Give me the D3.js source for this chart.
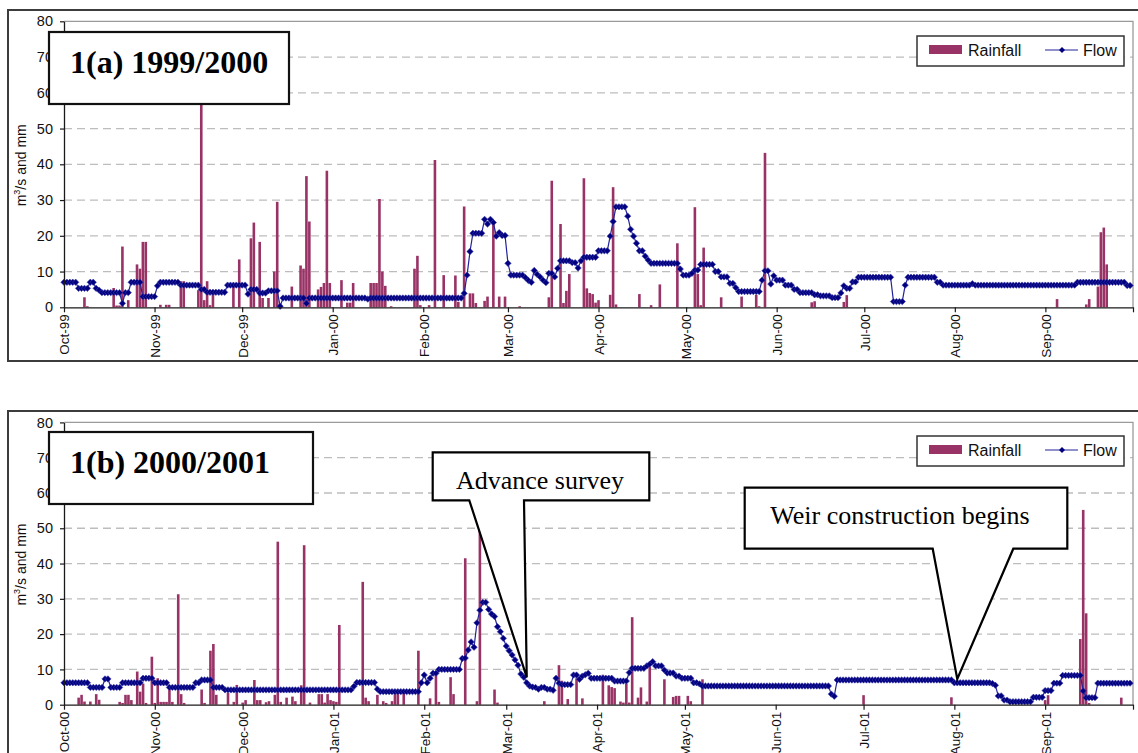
<!DOCTYPE html>
<html>
<head>
<meta charset="utf-8">
<script src="https://cdn.jsdelivr.net/npm/d3@7"></script>
<style>
  body { margin: 0; background: #fff; }
  svg { display: block; }
</style>
</head>
<body>
<svg id="chart" width="1138" height="753"></svg>
<script>
// ---------------------------------------------------------------
// Daily river flow (m3/s), one value per day from 1 October
// ---------------------------------------------------------------
const flow9900 = [
  // Oct-99
  7,7,7,7,7,5.3,5.3,5.3,5.3,7,7,5.3,4.8,4.1,4.1,4.1,4.1,4.1,4.1,4.1,1.1,4.1,4.1,7,7,7,7,3,3,3,3,
  // Nov-99
  3,6,7,7,7,7,7,7,7,6.2,6.2,6.2,6.2,6.2,6.2,6.2,5,5,4.2,4.2,4.2,4.2,4.2,4.2,4.2,6.2,6.2,6.2,6.2,6.2,
  // Dec-99
  6.2,6.2,3.7,5,5,5,4,4,4,4.6,4.6,4.6,4.6,0.3,2.6,2.6,2.6,2.6,2.6,2.6,2.6,2.6,1.1,2.6,2.6,2.6,2.6,2.6,2.6,2.6,2.6,
  // Jan-00
  2.6,2.6,2.6,2.6,2.6,2.6,2.6,2.6,2.6,2.6,2.6,2.6,2.3,2.6,2.6,2.6,2.6,2.6,2.6,2.6,2.6,2.6,2.6,2.6,2.6,2.6,2.6,2.6,2.6,2.6,2.6,
  // Feb-00
  2.6,2.6,2.6,2.6,2.6,2.6,2.6,2.6,2.6,2.6,2.6,2.6,2.6,2.6,3.9,9,15.6,20.7,20.7,20.7,20.7,24.6,23.3,24.6,23.7,19.9,20.9,20.1,20.1,
  // Mar-00
  12.3,9,9,9,9,9,8.3,7.5,7,10.3,9.2,8.5,7.6,6.9,9.5,9.5,8.5,10.9,13,13,13,13,12.5,12.5,11,13,14,14,14,14,14,
  // Apr-00
  15.8,15.8,15.8,15.8,19.9,24,28.1,28.1,28.1,28.1,25.5,21.8,19.9,17.9,15.8,15.8,14.3,13.2,12.3,12.3,12.3,12.3,12.3,12.3,12.3,12.3,12.3,12.3,10.7,9,
  // May-00
  9,9,9.5,10.4,10.4,12,12,12,12,12,10,10,8.5,8.5,8.5,6.7,6.7,5.5,4.4,4.4,4.4,4.4,4.4,4.4,4.4,4.4,7.6,10.2,10.2,6.5,8.8,
  // Jun-00
  7.6,7.6,7.6,6.2,6.2,6.2,5,5,4.1,4.1,4.1,4.1,4.1,3.5,3.5,3.2,3.2,3.2,3.2,2.7,2.7,2.7,4,6,5.3,5.3,7.1,7.1,8.4,8.4,
  // Jul-00
  8.4,8.4,8.4,8.4,8.4,8.4,8.4,8.4,8.4,8.4,1.6,1.6,1.6,1.6,6.2,8.4,8.4,8.4,8.4,8.4,8.4,8.4,8.4,8.4,8.4,7,7,6.2,6.2,6.2,6.2,
  // Aug-00
  6.2,6.2,6.2,6.2,6.2,6.2,6.6,6.2,6.2,6.2,6.2,6.2,6.2,6.2,6.2,6.2,6.2,6.2,6.2,6.2,6.2,6.2,6.2,6.2,6.2,6.2,6.2,6.2,6.2,6.2,6.2,
  // Sep-00
  6.2,6.2,6.2,6.2,6.2,6.2,6.2,6.2,6.2,6.2,6.2,7,7,7,7,7,7,7,7,7,7,7,7,7,7,7,7,7,6.1,6.1
];

const flow0001 = [
  // Oct-00
  6.2,6.2,6.2,6.2,6.2,6.2,6.2,6.2,6.2,4.9,4.9,4.9,4.9,4.9,7.3,7.3,4.9,4.9,4.9,4.9,6.2,6.2,6.2,6.2,6.2,6.2,6.2,7.5,7.5,7.5,7.5,
  // Nov-00
  6.2,6.2,6.2,6.2,6.2,4.9,4.9,4.9,4.9,4.9,4.9,4.9,4.9,4.9,6.2,6.2,7,7,7,7,4.9,4.9,4.9,4.9,4.2,4.2,4.2,4.2,4.2,4.2,
  // Dec-00
  4.2,4.2,4.2,4.2,4.2,4.2,4.2,4.2,4.2,4.2,4.2,4.2,4.2,4.2,4.2,4.2,4.2,4.2,4.2,4.2,4.2,4.2,4.2,4.2,4.2,4.2,4.2,4.2,4.2,4.2,4.2,
  // Jan-01
  4.2,4.2,4.2,4.2,4.2,4.2,4.2,5.2,6.3,6.3,6.3,6.3,6.3,6.3,6.3,4.4,3.7,3.7,3.7,3.7,3.7,3.7,3.7,3.7,3.7,3.7,3.7,3.7,3.7,3.7,6.2,
  // Feb-01
  8.4,6.2,7.5,8.9,8.9,10,10,10,10,10,10,10,10,13.1,13.2,15.5,17.8,16.3,23.2,26.8,29,29,27,25.7,25,22.1,20.7,18.8,
  // Mar-01
  16.6,15.3,14.1,12.7,11.2,8.7,7.8,6.2,5.3,5,4.9,4.4,4.9,4.9,4.4,4.4,4.1,7.5,6.1,5.7,5.7,5.7,5.7,8.4,8.4,7.2,8.1,8.5,8.9,7.5,7.5,
  // Apr-01
  7.5,7.5,7.5,7.5,7.5,7.5,6.7,6.7,6.7,6.7,6.7,9.1,10.3,10.3,10.3,10.3,10.3,11,11.5,12.2,11,11,11,9.8,9,9,9,8.1,8.1,7.5,
  // May-01
  7.5,7.5,7.5,6.2,6.2,5.9,5.3,5.3,5.3,5.3,5.3,5.3,5.3,5.3,5.3,5.3,5.3,5.3,5.3,5.3,5.3,5.3,5.3,5.3,5.3,5.3,5.3,5.3,5.3,5.3,5.3,
  // Jun-01
  5.3,5.3,5.3,5.3,5.3,5.3,5.3,5.3,5.3,5.3,5.3,5.3,5.3,5.3,5.3,5.3,5.3,5.3,5.3,3,2.4,7,7,7,7,7,7,7,7,7,
  // Jul-01
  7,7,7,7,7,7,7,7,7,7,7,7,7,7,7,7,7,7,7,7,7,7,7,7,7,7,7,7,7,7,7,
  // Aug-01
  6.2,6.2,6.2,6.2,6.2,6.2,6.2,6.2,6.2,6.2,6.2,6.2,6.2,6,5.5,2.5,2.5,1.3,1.3,0.85,0.85,0.85,0.85,0.85,0.85,0.85,0.85,2.1,2.1,2.1,2.1,
  // Sep-01
  4,4,4,6.1,6.1,6.1,8.3,8.3,8.3,8.3,8.3,8.3,8.3,3.9,2,2,2,2,6.1,6.1,6.1,6.1,6.1,6.1,6.1,6.1,6.1,6.1,6.1,6.1
];

// ---------------------------------------------------------------
// Daily rainfall (mm): day number counted from 1 October, and amount
// ---------------------------------------------------------------
const rainDay9900 = [7,8,17,18,19,20,22,25,26,27, 28,33,35,36,40,41,46,47,48,49,
  50,51,58,60,64,65,67,68,70,72, 73,78,81,82,83,84,87,88,89,90,
  91,95,97,98,99,105,106,107,108,109, 110,112,120,121,122,125,127,130,134,135,
  137,139,140,141,144,145,147,149,151,156, 166,167,170,171,172,173,178,179,180,181,
  182,183,187,188,189,197,201,204,210,216, 217,218,219,225,232,237,238,240,256,257,
  267,268,340,350,351,354,355,356,357];
const rain9900 = [2.8,0.3,5.4,0.5,0.5,17,2,12,10.8,18.3, 18.3,0.7,0.7,0.7,7.3,7.3,4.8,62,2,7.3,
  0.6,3.7,5.8,13.4,19.3,23.7,18.3,2.6,2.6,10, 29.5,5.8,11.7,10.8,36.7,24,5,5.7,6.8,38.2,
  6.8,7.6,1.3,1.3,6.8,6.8,6.8,6.8,30.3,10, 6,0.3,10.8,14.4,0.6,0.6,41.2,9,8.9,1.5,
  28.2,3.9,3.9,1.2,1.8,3,23.5,3,3,0.3, 2.8,35.4,23.3,1.2,4.6,9.3,36.1,5.3,4,3.7,
  1.3,2,3.5,33.6,0.8,3.7,0.6,6.4,17.9,28, 9.3,0.6,16.7,2.8,3,3.5,0.3,43.2,1.4,1.7,
  1.5,3.4,2.3,0.8,2.3,5.8,21,22.3,12];

const rainDay0001 = [5,6,7,9,11,12,19,20,21,22, 23,25,26,27,28,30,31,32,33,34,
  35,36,37,39,40,41,47,48,50,51, 52,56,58,59,61,62,65,66,67,69,
  70,72,73,74,76,78,79,81,82,84, 87,88,89,90,91,92,93,94,102,103,
  104,107,109,110,112,113,114,116,121,125, 127,128,132,133,137,141,142,147,148,164,
  169,170,172,175,177,184,186,187,188,190, 191,192,193,194,196,197,199,200,205,208,
  209,210,213,214,218,273,303,335,336,347, 348,349,350,361];
const rain0001 = [2,2.8,0.9,0.9,3,1.4,0.8,0.5,2.8,2.8, 1.3,9.4,3.7,6,0.5,13.6,0.5,7.5,0.8,0.8,
  0.8,4.4,0.8,31.3,3,0.5,4.3,0.5,15.3,17.2, 2.8,3.4,0.8,5.6,0.6,1.3,7,1.3,1.3,0.7,
  1,2.8,46.2,0.8,2,2.3,1,5.5,45.2,0.6, 3,3,0.6,3,1.3,1,0.8,22.6,34.8,2,
  1,2.8,1,0.5,1,3.3,3.3,3.3,15.3,1.8, 8.3,0.8,7.8,3,41.5,1,50,4.3,0.6,1,
  11.2,6.8,1.6,7.5,1.8,8.5,5.5,5,4.7,0.9, 0.6,5.9,0.6,24.8,2,4.9,0.9,10.8,7.2,2.2,
  2.5,2.5,2.5,1,7.2,2.7,2.1,1.3,2.7,18.6, 55.2,25.9,0.5,2];

// Axis labels
const monthLabels9900 = ["Oct-99","Nov-99","Dec-99","Jan-00","Feb-00","Mar-00",
                         "Apr-00","May-00","Jun-00","Jul-00","Aug-00","Sep-00"];
const monthLabels0001 = ["Oct-00","Nov-00","Dec-00","Jan-01","Feb-01","Mar-01",
                         "Apr-01","May-01","Jun-01","Jul-01","Aug-01","Sep-01"];
const yTicks = [0,10,20,30,40,50,60,70,80];

// Callout notes on the 2000/2001 flow record
const noteText = ["Advance survey", "Weir construction begins"];
const noteDate = [Date.UTC(2001, 2, 8), Date.UTC(2001, 7, 2)];
const noteFlow = [7.8, 7.3];

// ---------------------------------------------------------------
// Layout
// ---------------------------------------------------------------
const svg = d3.select("#chart");
const SANS = "'Liberation Sans', Arial, sans-serif";
const SERIF = "'Liberation Serif', 'Times New Roman', serif";
const RAIN_COLOR = "#993366";
const FLOW_COLOR = "#000080";
const PLOT_LEFT = 64, PLOT_RIGHT = 1133;

const panels = [
  { start: Date.UTC(1999, 9, 1), end: Date.UTC(2000, 9, 1),
    flow: flow9900, rainDay: rainDay9900, rain: rain9900, labels: monthLabels9900,
    frameY: 10, frameH: 351, top: 21.3, bottom: 307.3,
    title: "1(a) 1999/2000", titleBox: [49, 32, 240, 72], legendY: 36 },
  { start: Date.UTC(2000, 9, 1), end: Date.UTC(2001, 9, 1),
    flow: flow0001, rainDay: rainDay0001, rain: rain0001, labels: monthLabels0001,
    frameY: 411, frameH: 380, top: 422.4, bottom: 704.7,
    title: "1(b) 2000/2001", titleBox: [49, 432, 264, 72], legendY: 436 }
];

const diamond = r => `M0,${-r}L${r},0L0,${r}L${-r},0Z`;

function drawPanel(p) {
  const g = svg.append("g");
  const x = d3.scaleUtc().domain([p.start, p.end]).range([PLOT_LEFT, PLOT_RIGHT]);
  const y = d3.scaleLinear().domain([0, 80]).range([p.bottom, p.top]);
  const dayDate = i => d3.utcDay.offset(new Date(p.start), i);

  // outer frame
  g.append("rect")
    .attr("x", 8).attr("y", p.frameY).attr("width", 1150).attr("height", p.frameH)
    .attr("fill", "none").attr("stroke", "#3c3c3c").attr("stroke-width", 2);

  // dashed gridlines
  g.append("g").selectAll("line")
    .data(yTicks.filter(v => v > 0 && v < 80))
    .join("line")
    .attr("x1", PLOT_LEFT).attr("x2", PLOT_RIGHT)
    .attr("y1", d => y(d)).attr("y2", d => y(d))
    .attr("stroke", "#bdbdbd").attr("stroke-width", 1.3)
    .attr("stroke-dasharray", "8,5");

  // plot area border (top and right)
  g.append("path")
    .attr("d", `M${PLOT_LEFT},${y(80)}H${PLOT_RIGHT}V${y(0)}`)
    .attr("fill", "none").attr("stroke", "#9a9a9a").attr("stroke-width", 1.3);

  // rainfall bars
  const bw = 2.6;
  g.append("g").selectAll("rect")
    .data(p.rainDay.map((d, i) => ({ date: dayDate(d), v: p.rain[i] })))
    .join("rect")
    .attr("x", d => x(d.date) - bw / 2)
    .attr("width", bw)
    .attr("y", d => y(d.v))
    .attr("height", d => y(0) - y(d.v))
    .attr("fill", RAIN_COLOR);

  // flow line with diamond markers
  const flowPts = p.flow.map((v, i) => ({ date: dayDate(i), v }));
  g.append("path")
    .datum(flowPts)
    .attr("d", d3.line().x(d => x(d.date)).y(d => y(d.v)))
    .attr("fill", "none").attr("stroke", "#22229a").attr("stroke-width", 1.2);
  g.append("g").selectAll("path")
    .data(flowPts)
    .join("path")
    .attr("transform", d => `translate(${x(d.date)},${y(d.v)})`)
    .attr("d", diamond(3.2))
    .attr("fill", FLOW_COLOR).attr("stroke", "#3d3da8").attr("stroke-width", 0.6);

  // y axis
  const yAxis = g.append("g")
    .attr("transform", `translate(${PLOT_LEFT},0)`)
    .call(d3.axisLeft(y).tickValues(yTicks).tickSize(4).tickPadding(7).tickSizeOuter(0));
  yAxis.select(".domain").attr("stroke", "#1a1a1a").attr("stroke-width", 1.3);
  yAxis.selectAll(".tick line").attr("stroke", "#1a1a1a").attr("stroke-width", 1.2);
  yAxis.selectAll("text").attr("font-family", SANS).attr("font-size", 14.5).attr("fill", "#111");

  // x axis with month labels
  const ticks = d3.utcMonth.range(new Date(p.start), new Date(p.end + 1));
  const xAxis = g.append("g")
    .attr("transform", `translate(0,${y(0)})`)
    .call(d3.axisBottom(x).tickValues(ticks).tickSize(5).tickSizeOuter(0)
      .tickFormat((d, i) => p.labels[i] || ""));
  xAxis.select(".domain").attr("stroke", "#1a1a1a").attr("stroke-width", 1.3);
  xAxis.selectAll(".tick line").attr("stroke", "#1a1a1a").attr("stroke-width", 1.2);
  xAxis.selectAll("text")
    .attr("font-family", SANS).attr("font-size", 13.5).attr("fill", "#111")
    .attr("transform", "rotate(-90)")
    .attr("text-anchor", "end")
    .attr("x", -7).attr("y", 0).attr("dy", "0.36em");

  // y axis title
  const yt = g.append("text")
    .attr("transform", `translate(26,${(y(0) + y(80)) / 2 + 1}) rotate(-90)`)
    .attr("text-anchor", "middle")
    .attr("font-family", SANS).attr("font-size", 14).attr("fill", "#111");
  yt.append("tspan").text("m");
  yt.append("tspan").text("3").attr("font-size", 9).attr("dy", -6);
  yt.append("tspan").text("/s and mm").attr("dy", 6);

  // legend
  const ly = p.legendY;
  const lg = g.append("g");
  lg.append("rect").attr("x", 917).attr("y", ly).attr("width", 207).attr("height", 30)
    .attr("fill", "#fff").attr("stroke", "#333").attr("stroke-width", 1.5);
  lg.append("rect").attr("x", 929).attr("y", ly + 9).attr("width", 33).attr("height", 9)
    .attr("fill", RAIN_COLOR);
  lg.append("text").attr("x", 968).attr("y", ly + 19.5).text("Rainfall")
    .attr("font-family", SANS).attr("font-size", 16).attr("fill", "#111");
  lg.append("line").attr("x1", 1045).attr("x2", 1078).attr("y1", ly + 14).attr("y2", ly + 14)
    .attr("stroke", "#22229a").attr("stroke-width", 1.2);
  lg.append("path").attr("transform", `translate(1062,${ly + 14})`).attr("d", diamond(3))
    .attr("fill", FLOW_COLOR);
  lg.append("text").attr("x", 1083).attr("y", ly + 19.5).text("Flow")
    .attr("font-family", SANS).attr("font-size", 16).attr("fill", "#111");

  // season title box
  const [bx, by, bwid, bh] = p.titleBox;
  g.append("rect").attr("x", bx).attr("y", by).attr("width", bwid).attr("height", bh)
    .attr("fill", "#fff").attr("stroke", "#111").attr("stroke-width", 2.2);
  g.append("text").attr("x", bx + 21).attr("y", by + 41).text(p.title)
    .attr("font-family", SERIF).attr("font-weight", "bold").attr("font-size", 32)
    .attr("fill", "#000");

  return { x, y };
}

const scalesA = drawPanel(panels[0]);
const scalesB = drawPanel(panels[1]);

// callouts on the lower panel
const calloutBoxes = [
  { box: [432.7, 452.3, 216.6, 48], base: [469.3, 524], textX: 540, textY: 488.5 },
  { box: [744.7, 487.7, 322.6, 61], base: [932.7, 1013.3], textX: 900, textY: 524 }
];
calloutBoxes.forEach((c, i) => {
  const tx = scalesB.x(noteDate[i]);
  const ty = scalesB.y(noteFlow[i]);
  const [bx, by, bwid, bh] = c.box;
  const b = by + bh;
  const path = `M${bx},${by}H${bx + bwid}V${b}H${c.base[1]}L${tx},${ty}L${c.base[0]},${b}H${bx}Z`;
  svg.append("path").attr("d", path)
    .attr("fill", "#fff").attr("stroke", "#000").attr("stroke-width", 2.2)
    .attr("stroke-linejoin", "miter");
  svg.append("text").attr("x", c.textX).attr("y", c.textY)
    .attr("text-anchor", "middle").text(noteText[i])
    .attr("font-family", SERIF).attr("font-size", 26).attr("fill", "#000");
});
</script>
</body>
</html>
